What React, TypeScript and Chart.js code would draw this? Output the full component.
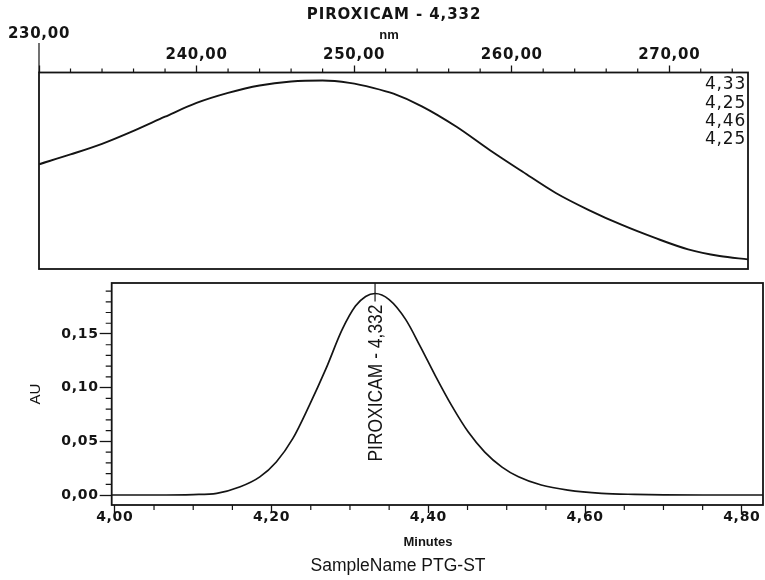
import React, { useEffect, useRef } from 'react';
import { Chart, registerables } from 'chart.js';

Chart.register(...registerables);

// ---------- Top panel: UV spectrum of the peak ----------
const spectrumTitle = 'PIROXICAM - 4,332';
const spectrumAxisTitle = 'nm';
const wavelengthNm = [230, 232, 234, 236, 238, 240, 242, 244, 246, 248, 249.7, 251.2, 252.5, 254.3, 256.5, 258.6, 260.7, 262.8, 264.9, 267, 269.1, 271.2, 273.2, 275];
const spectrumRel = [0.533, 0.583, 0.637, 0.703, 0.775, 0.845, 0.896, 0.934, 0.954, 0.959, 0.947, 0.922, 0.892, 0.828, 0.724, 0.606, 0.495, 0.387, 0.3, 0.224, 0.158, 0.1, 0.066, 0.049];
const spectrumLabels = ['4,33', '4,25', '4,46', '4,25'];
const nmTicks = [230, 240, 250, 260, 270];
const nmMinorStep = 2;
const nmRange = [230, 275];

// ---------- Bottom panel: chromatogram ----------
const retentionMin = [3.996, 4.05, 4.1, 4.13, 4.16, 4.185, 4.206, 4.227, 4.248, 4.269, 4.29, 4.307, 4.32, 4.332, 4.35, 4.371, 4.39, 4.409, 4.43, 4.451, 4.472, 4.494, 4.515, 4.544, 4.578, 4.621, 4.663, 4.7, 4.75, 4.827];
const absorbanceAU = [0, 0, 0.0004, 0.0016, 0.0077, 0.0169, 0.0308, 0.0525, 0.0833, 0.117, 0.154, 0.176, 0.185, 0.1877, 0.182, 0.1636, 0.138, 0.111, 0.083, 0.0586, 0.04, 0.026, 0.017, 0.0093, 0.0046, 0.0016, 0.0006, 0.0002, 0, 0];
const auTicks = [0, 0.05, 0.1, 0.15];
const auMinorStep = 0.01;
const auRange = [-0.0093, 0.1975];
const minuteTicks = [4.0, 4.2, 4.4, 4.6, 4.8];
const minuteMinorStep = 0.05;
const minuteRange = [3.996, 4.827];
const peakTime = 4.332;
const peakLabel = 'PIROXICAM - 4,332';
const yAxisTitle = 'AU';
const xAxisTitle = 'Minutes';
const sampleName = 'SampleName PTG-ST';

const INK = '#141414';
const fmt = (v: number) => Number(v).toFixed(2).replace('.', ',');

const spacingPlugin = {
  id: 'spacing',
  beforeUpdate(chart: any) { chart.ctx.letterSpacing = '0.7px'; },
  beforeDraw(chart: any) { chart.ctx.letterSpacing = '0.7px'; },
};

const topDecor = {
  id: 'topDecor',
  afterDraw(chart: any) {
    const { ctx, chartArea: a, scales } = chart;
    const xs = scales.x;
    ctx.save();
    ctx.strokeStyle = INK;
    ctx.fillStyle = INK;
    ctx.lineWidth = 1.8;
    ctx.strokeRect(a.left, a.top, a.right - a.left, a.bottom - a.top);
    ctx.lineWidth = 1.2;
    ctx.beginPath();
    for (let v = nmRange[0]; v <= nmRange[1] + 1e-9; v += nmMinorStep) {
      if (nmTicks.includes(v)) continue;
      const px = xs.getPixelForValue(v);
      ctx.moveTo(px, a.top);
      ctx.lineTo(px, a.top - 4);
    }
    const p0 = xs.getPixelForValue(nmTicks[0]);
    ctx.moveTo(p0, a.top);
    ctx.lineTo(p0, a.top - 29.5);
    ctx.stroke();
    ctx.textAlign = 'center';
    ctx.textBaseline = 'middle';
    ctx.letterSpacing = '0.9px';
    ctx.font = 'bold 15px "DejaVu Sans", sans-serif';
    ctx.fillText(spectrumTitle, 394, 15);
    ctx.letterSpacing = '0px';
    ctx.font = 'bold 13px "Liberation Sans", Arial, sans-serif';
    ctx.fillText(spectrumAxisTitle, 389, 35);
    ctx.textAlign = 'right';
    ctx.letterSpacing = '0.8px';
    ctx.font = '17px "DejaVu Sans", sans-serif';
    spectrumLabels.forEach((t, i) => {
      ctx.fillText(t, a.right - 2, a.top + 12.5 + i * 18.3);
    });
    ctx.restore();
  },
};

const bottomDecor = {
  id: 'bottomDecor',
  afterDraw(chart: any) {
    const { ctx, chartArea: a, scales } = chart;
    const xs = scales.x;
    const ys = scales.y;
    ctx.save();
    ctx.strokeStyle = INK;
    ctx.fillStyle = INK;
    ctx.lineWidth = 1.8;
    ctx.strokeRect(a.left, a.top, a.right - a.left, a.bottom - a.top);
    ctx.lineWidth = 1.2;
    ctx.beginPath();
    for (let k = 0; ; k++) {
      const v = minuteTicks[0] + k * minuteMinorStep;
      if (v > minuteRange[1]) break;
      if (minuteTicks.some((t) => Math.abs(t - v) < 1e-6)) continue;
      const px = xs.getPixelForValue(v);
      ctx.moveTo(px, a.bottom);
      ctx.lineTo(px, a.bottom + 5);
    }
    for (let k = 0; ; k++) {
      const v = k * auMinorStep;
      if (v > auRange[1]) break;
      if (auTicks.some((t) => Math.abs(t - v) < 1e-6)) continue;
      const py = ys.getPixelForValue(v);
      ctx.moveTo(a.left, py);
      ctx.lineTo(a.left - 6, py);
    }
    ctx.stroke();
    const peakAU = Math.max(...absorbanceAU);
    const px = xs.getPixelForValue(peakTime);
    const pyPeak = ys.getPixelForValue(peakAU);
    ctx.beginPath();
    ctx.moveTo(px, a.top);
    ctx.lineTo(px, pyPeak + 8);
    ctx.stroke();
    ctx.save();
    ctx.translate(px + 1, pyPeak + 11);
    ctx.rotate(-Math.PI / 2);
    ctx.letterSpacing = '0px';
    ctx.font = '21px "Liberation Sans", Arial, sans-serif';
    const w = ctx.measureText(peakLabel).width;
    ctx.scale(157 / w, 1);
    ctx.textAlign = 'right';
    ctx.textBaseline = 'middle';
    ctx.fillText(peakLabel, 0, 0);
    ctx.restore();
    ctx.textBaseline = 'middle';
    ctx.textAlign = 'center';
    ctx.letterSpacing = '0px';
    ctx.font = 'bold 13px "Liberation Sans", Arial, sans-serif';
    ctx.fillText(xAxisTitle, 428, a.bottom + 37);
    ctx.font = '17.5px "Liberation Sans", Arial, sans-serif';
    ctx.fillText(sampleName, 398, a.bottom + 61);
    ctx.save();
    ctx.translate(36, (a.top + a.bottom) / 2);
    ctx.rotate(-Math.PI / 2);
    ctx.font = '15px "Liberation Sans", Arial, sans-serif';
    ctx.fillText(yAxisTitle, 0, 0);
    ctx.restore();
    ctx.restore();
  },
};

export default function App() {
  const topRef = useRef<HTMLCanvasElement>(null);
  const botRef = useRef<HTMLCanvasElement>(null);

  useEffect(() => {
    const top = new Chart(topRef.current as HTMLCanvasElement, {
      type: 'line',
      data: {
        datasets: [
          {
            data: wavelengthNm.map((x, i) => ({ x, y: spectrumRel[i] })),
            borderColor: INK,
            borderWidth: 1.9,
            pointRadius: 0,
            cubicInterpolationMode: 'monotone',
            fill: false,
          },
        ],
      },
      options: {
        responsive: false,
        animation: false,
        devicePixelRatio: 1,
        layout: { padding: { left: 39, right: 17, top: 24, bottom: 6 } },
        plugins: { legend: { display: false }, tooltip: { enabled: false }, title: { display: false } },
        scales: {
          x: {
            type: 'linear',
            position: 'top',
            min: nmRange[0],
            max: nmRange[1],
            afterBuildTicks: (s: any) => {
              s.ticks = nmTicks.map((value) => ({ value }));
            },
            afterFit: (s: any) => {
              s.height = 48.5;
            },
            grid: { display: true, drawOnChartArea: false, drawTicks: true, tickLength: 7, color: INK, tickColor: INK, tickWidth: 1.3 },
            border: { display: false },
            ticks: {
              color: INK,
              padding: 0,
              maxRotation: 0,
              autoSkip: false,
              font: { family: '"DejaVu Sans", sans-serif', size: 15, weight: 'bold', lineHeight: 1.4 },
              callback: (v: any) => (v === nmTicks[0] ? [fmt(v), ''] : fmt(v)),
            },
          },
          y: { display: false, min: 0, max: 1 },
        },
      } as any,
      plugins: [spacingPlugin, topDecor],
    });

    const bottom = new Chart(botRef.current as HTMLCanvasElement, {
      type: 'line',
      data: {
        datasets: [
          {
            data: retentionMin.map((x, i) => ({ x, y: absorbanceAU[i] })),
            borderColor: INK,
            borderWidth: 1.7,
            pointRadius: 0,
            cubicInterpolationMode: 'monotone',
            fill: false,
          },
        ],
      },
      options: {
        responsive: false,
        animation: false,
        devicePixelRatio: 1,
        layout: { padding: { left: 0, right: 2, top: 6.7, bottom: 31 } },
        plugins: { legend: { display: false }, tooltip: { enabled: false }, title: { display: false } },
        scales: {
          x: {
            type: 'linear',
            position: 'bottom',
            min: minuteRange[0],
            max: minuteRange[1],
            afterBuildTicks: (s: any) => {
              s.ticks = minuteTicks.map((value) => ({ value }));
            },
            afterFit: (s: any) => {
              s.height = 44;
            },
            grid: { display: true, drawOnChartArea: false, drawTicks: true, tickLength: 8, color: INK, tickColor: INK, tickWidth: 1.3 },
            border: { display: false },
            ticks: {
              color: INK,
              padding: -3,
              maxRotation: 0,
              autoSkip: false,
              font: { family: '"DejaVu Sans", sans-serif', size: 14, weight: 'bold', lineHeight: 1 },
              callback: (v: any) => fmt(v),
            },
          },
          y: {
            type: 'linear',
            min: auRange[0],
            max: auRange[1],
            afterBuildTicks: (s: any) => {
              s.ticks = auTicks.map((value) => ({ value }));
            },
            afterFit: (s: any) => {
              s.width = 111.7;
            },
            grid: { display: true, drawOnChartArea: false, drawTicks: true, tickLength: 12, color: INK, tickColor: INK, tickWidth: 1.3 },
            border: { display: false },
            ticks: {
              color: INK,
              padding: 1,
              font: { family: '"DejaVu Sans", sans-serif', size: 14, weight: 'bold', lineHeight: 1 },
              callback: (v: any) => fmt(v),
            },
          },
        },
      } as any,
      plugins: [spacingPlugin, bottomDecor],
    });

    return () => {
      top.destroy();
      bottom.destroy();
    };
  }, []);

  return (
    <div style={{ position: 'absolute', left: 0, top: 0, width: 765, height: 580, background: '#fff' }}>
      <canvas ref={topRef} width={765} height={275} style={{ position: 'absolute', left: 0, top: 0, width: 765, height: 275 }} />
      <canvas ref={botRef} width={765} height={305} style={{ position: 'absolute', left: 0, top: 275, width: 765, height: 305 }} />
    </div>
  );
}
